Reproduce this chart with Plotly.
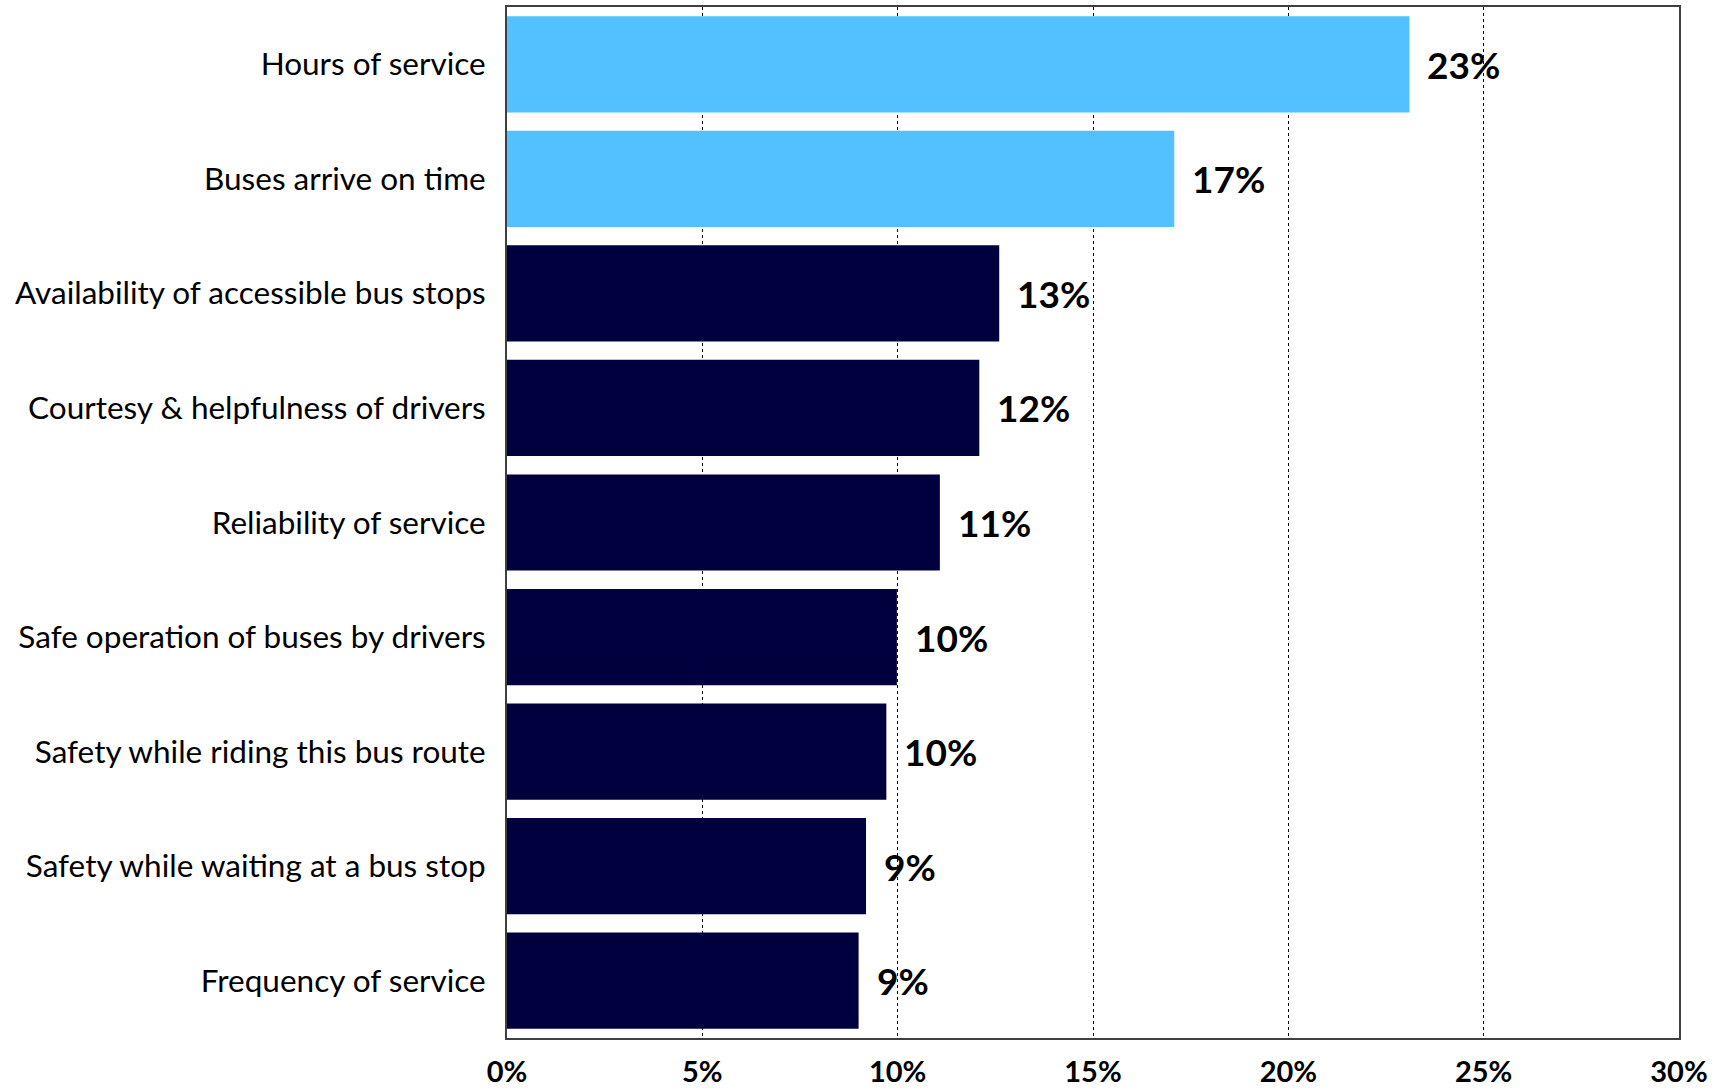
import plotly.graph_objects as go

# Share of riders naming each attribute (percent)
categories = [
    "Hours of service",
    "Buses arrive on time",
    "Availability of accessible bus stops",
    "Courtesy & helpfulness of drivers",
    "Reliability of service",
    "Safe operation of buses by drivers",
    "Safety while riding this bus route",
    "Safety while waiting at a bus stop",
    "Frequency of service",
]
values = [23.1, 17.08, 12.6, 12.09, 11.08, 9.98, 9.71, 9.19, 9.0]
highlighted = [True, True, False, False, False, False, False, False, False]
x_ticks = [0, 5, 10, 15, 20, 25, 30]

LIGHT = "#53C1FF"
NAVY = "#00003F"
colors = [LIGHT if h else NAVY for h in highlighted]

fig = go.Figure(
    go.Bar(
        x=values,
        y=categories,
        orientation="h",
        marker=dict(color=colors, line=dict(width=0)),
        hoverinfo="skip",
    )
)

# Value labels just past each bar end
for cat, v in zip(categories, values):
    fig.add_annotation(
        x=v, y=cat, text=f"{round(v)}%",
        xanchor="left", yanchor="middle", xshift=16, showarrow=False,
        font=dict(family="Lato", size=37, color="#000000", weight="bold"),
    )

fig.update_layout(
    width=1723, height=1091,
    margin=dict(l=507, r=44, t=7, b=53),
    paper_bgcolor="white", plot_bgcolor="white",
    bargap=0.16,
    showlegend=False,
    font=dict(family="Lato", color="#000000"),
)
fig.update_xaxes(
    range=[0, 30], tickvals=x_ticks, ticktext=[f"{t}%" for t in x_ticks],
    showgrid=True, gridcolor="#000000", griddash="dot", gridwidth=1.2,
    showline=True, linecolor="#404040", linewidth=2, mirror=True,
    zeroline=False, ticks="", ticklabelstandoff=7, automargin=False,
    tickfont=dict(family="Lato", size=29, weight="bold", color="#000000"),
)
fig.update_yaxes(
    autorange="reversed", showgrid=False,
    showline=True, linecolor="#404040", linewidth=2, mirror=True,
    ticks="", ticklabelstandoff=13, automargin=False,
    tickfont=dict(family="Lato", size=31.5, color="#000000"),
)

fig.write_html("out.html")
